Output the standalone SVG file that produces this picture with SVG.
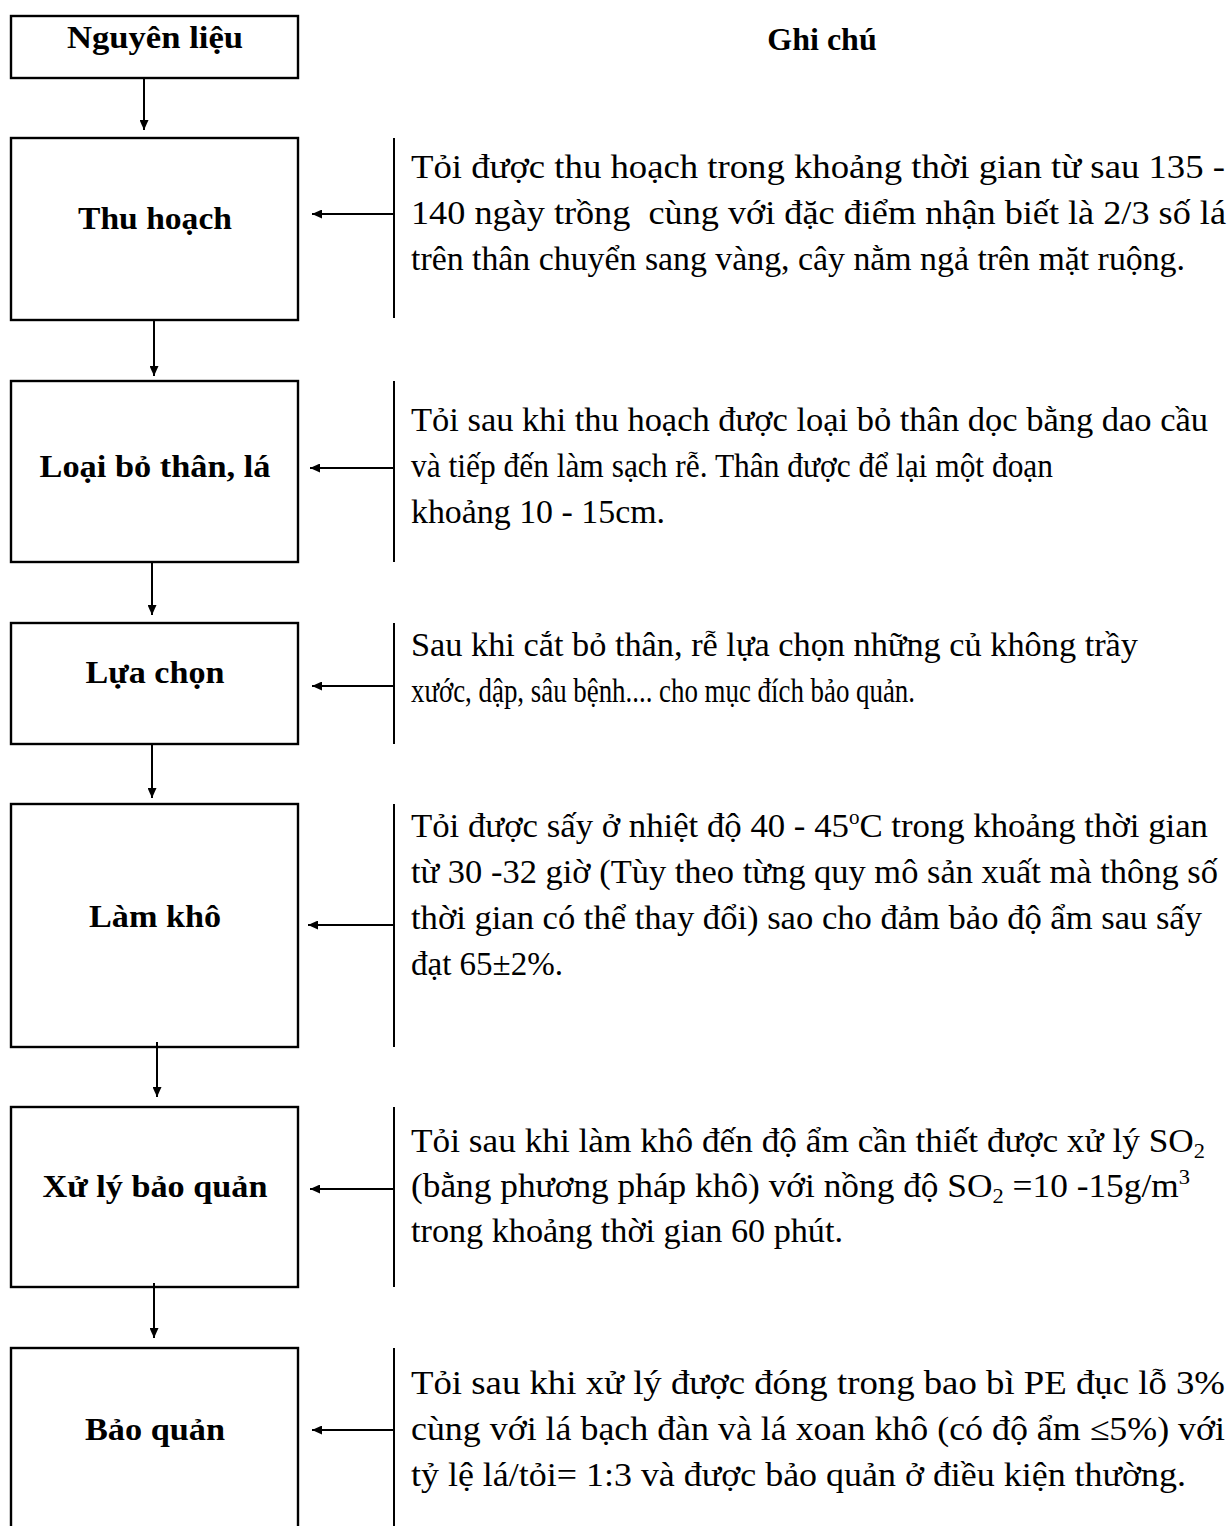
<svg xmlns="http://www.w3.org/2000/svg" width="1232" height="1526" viewBox="0 0 1232 1526">
<style>
  .box { fill: #fff; stroke: #000; stroke-width: 2.4; }
  .lbl { font-family: "Liberation Serif", "Times New Roman", serif; font-weight: bold; font-size: 32px; text-anchor: middle; fill: #000; }
  .note { font-family: "Liberation Serif", "Times New Roman", serif; font-size: 33px; fill: #000; white-space: pre; }
  .vline { stroke: #000; stroke-width: 2; fill: none; }
  .conn { stroke: #000; stroke-width: 2; fill: none; marker-end: url(#ah); }
</style>
<defs>
  <marker id="ah" markerUnits="userSpaceOnUse" markerWidth="11" markerHeight="9" refX="10" refY="4.5" orient="auto">
    <path d="M0,0 L10,4.5 L0,9 z" fill="#000"/>
  </marker>
</defs>
<rect width="1232" height="1526" fill="#fff"/>

<g id="header">
  <text class="lbl" x="822" y="50">Ghi chú</text>
</g>

<g id="node-nguyen-lieu">
  <rect class="box" x="11" y="16" width="287" height="62"/>
  <text class="lbl" x="155" y="48" textLength="176" lengthAdjust="spacingAndGlyphs">Nguyên liệu</text>
</g>

<g id="node-thu-hoach">
  <rect class="box" x="11" y="138" width="287" height="182"/>
  <text class="lbl" x="155" y="229" textLength="154" lengthAdjust="spacingAndGlyphs">Thu hoạch</text>
</g>

<g id="node-loai-bo">
  <rect class="box" x="11" y="381" width="287" height="181"/>
  <text class="lbl" x="155" y="477" textLength="231" lengthAdjust="spacingAndGlyphs">Loại bỏ thân, lá</text>
</g>

<g id="node-lua-chon">
  <rect class="box" x="11" y="623" width="287" height="121"/>
  <text class="lbl" x="155" y="683" textLength="139" lengthAdjust="spacingAndGlyphs">Lựa chọn</text>
</g>

<g id="node-lam-kho">
  <rect class="box" x="11" y="804" width="287" height="243"/>
  <text class="lbl" x="155" y="927" textLength="132" lengthAdjust="spacingAndGlyphs">Làm khô</text>
</g>

<g id="node-xu-ly">
  <rect class="box" x="11" y="1107" width="287" height="180"/>
  <text class="lbl" x="155" y="1197" textLength="225" lengthAdjust="spacingAndGlyphs">Xử lý bảo quản</text>
</g>

<g id="node-bao-quan">
  <rect class="box" x="11" y="1348" width="287" height="190"/>
  <text class="lbl" x="155" y="1440" textLength="140" lengthAdjust="spacingAndGlyphs">Bảo quản</text>
</g>

<g id="note-thu-hoach">
  <line class="vline" x1="394" y1="138" x2="394" y2="318"/>
  <text class="note" x="411" y="178" textLength="814" lengthAdjust="spacingAndGlyphs">Tỏi được thu hoạch trong khoảng thời gian từ sau 135 -</text>
  <text class="note" x="411" y="224" textLength="815" lengthAdjust="spacingAndGlyphs">140 ngày trồng  cùng với đặc điểm nhận biết là 2/3 số lá</text>
  <text class="note" x="411" y="270" textLength="774" lengthAdjust="spacingAndGlyphs">trên thân chuyển sang vàng, cây nằm ngả trên mặt ruộng.</text>
</g>

<g id="note-loai-bo">
  <line class="vline" x1="394" y1="381" x2="394" y2="562"/>
  <text class="note" x="411" y="431" textLength="797" lengthAdjust="spacingAndGlyphs">Tỏi sau khi thu hoạch được loại bỏ thân dọc bằng dao cầu</text>
  <text class="note" x="411" y="477" textLength="642" lengthAdjust="spacingAndGlyphs">và tiếp đến làm sạch rễ. Thân được để lại một đoạn</text>
  <text class="note" x="411" y="523" textLength="254" lengthAdjust="spacingAndGlyphs">khoảng 10 - 15cm.</text>
</g>

<g id="note-lua-chon">
  <line class="vline" x1="394" y1="623" x2="394" y2="744"/>
  <text class="note" x="411" y="656" textLength="727" lengthAdjust="spacingAndGlyphs">Sau khi cắt bỏ thân, rễ lựa chọn những củ không trầy</text>
  <text class="note" x="411" y="702" textLength="504" lengthAdjust="spacingAndGlyphs">xước, dập, sâu bệnh.... cho mục đích bảo quản.</text>
</g>

<g id="note-lam-kho">
  <line class="vline" x1="394" y1="804" x2="394" y2="1047"/>
  <text class="note" x="411" y="837" textLength="797" lengthAdjust="spacingAndGlyphs">Tỏi được sấy ở nhiệt độ 40 - 45<tspan font-size="20" dy="-13">o</tspan><tspan dy="13">C trong khoảng thời gian</tspan></text>
  <text class="note" x="411" y="883" textLength="807" lengthAdjust="spacingAndGlyphs">từ 30 -32 giờ (Tùy theo từng quy mô sản xuất mà thông số</text>
  <text class="note" x="411" y="929" textLength="791" lengthAdjust="spacingAndGlyphs">thời gian có thể thay đổi) sao cho đảm bảo độ ẩm sau sấy</text>
  <text class="note" x="411" y="975" textLength="152" lengthAdjust="spacingAndGlyphs">đạt 65±2%.</text>
</g>

<g id="note-xu-ly">
  <line class="vline" x1="394" y1="1107" x2="394" y2="1287"/>
  <text class="note" x="411" y="1152" textLength="794" lengthAdjust="spacingAndGlyphs">Tỏi sau khi làm khô đến độ ẩm cần thiết được xử lý SO<tspan font-size="21" dy="6">2</tspan></text>
  <text class="note" x="411" y="1197" textLength="779" lengthAdjust="spacingAndGlyphs">(bằng phương pháp khô) với nồng độ SO<tspan font-size="21" dy="6">2</tspan><tspan dy="-6"> =10 -15g/m</tspan><tspan font-size="21" dy="-13">3</tspan></text>
  <text class="note" x="411" y="1242" textLength="432" lengthAdjust="spacingAndGlyphs">trong khoảng thời gian 60 phút.</text>
</g>

<g id="note-bao-quan">
  <line class="vline" x1="394" y1="1348" x2="394" y2="1526"/>
  <text class="note" x="411" y="1394" textLength="814" lengthAdjust="spacingAndGlyphs">Tỏi sau khi xử lý được đóng trong bao bì PE đục lỗ 3%</text>
  <text class="note" x="411" y="1440" textLength="814" lengthAdjust="spacingAndGlyphs">cùng với lá bạch đàn và lá xoan khô (có độ ẩm ≤5%) với</text>
  <text class="note" x="411" y="1486" textLength="775" lengthAdjust="spacingAndGlyphs">tỷ lệ lá/tỏi= 1:3 và được bảo quản ở điều kiện thường.</text>
</g>

<g id="connectors">
  <line class="conn" x1="144" y1="78" x2="144" y2="130"/>
  <line class="conn" x1="154" y1="320" x2="154" y2="376"/>
  <line class="conn" x1="152" y1="562" x2="152" y2="615"/>
  <line class="conn" x1="152" y1="744" x2="152" y2="798"/>
  <line class="conn" x1="157" y1="1042" x2="157" y2="1097"/>
  <line class="conn" x1="154" y1="1283" x2="154" y2="1338"/>
  <line class="conn" x1="394" y1="214" x2="312" y2="214"/>
  <line class="conn" x1="394" y1="468" x2="310" y2="468"/>
  <line class="conn" x1="394" y1="686" x2="312" y2="686"/>
  <line class="conn" x1="394" y1="925" x2="308" y2="925"/>
  <line class="conn" x1="394" y1="1189" x2="310" y2="1189"/>
  <line class="conn" x1="394" y1="1430" x2="312" y2="1430"/>
</g>
</svg>
